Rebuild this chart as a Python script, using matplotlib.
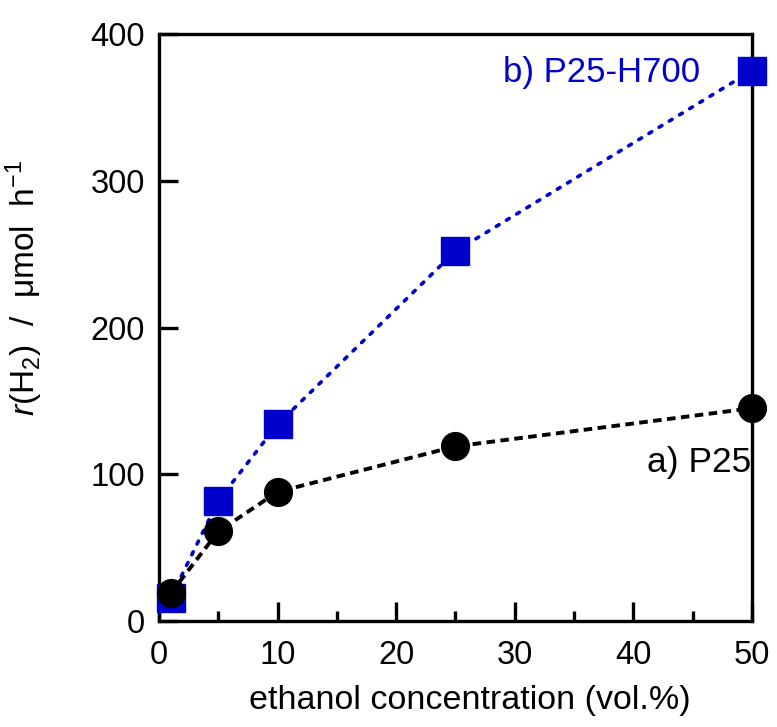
import matplotlib
matplotlib.use("Agg")
import matplotlib.pyplot as plt
from matplotlib.ticker import MultipleLocator

plt.rcParams['font.family'] = ['Liberation Sans', 'DejaVu Sans']
plt.rcParams['mathtext.fontset'] = 'custom'
plt.rcParams['mathtext.rm'] = 'Liberation Sans'
plt.rcParams['mathtext.it'] = 'Liberation Sans:italic'

ethanol = [1, 5, 10, 25, 50]
p25 = [19, 61, 88, 119, 145]
p25_h700 = [16, 82, 134, 252, 375]

fig = plt.figure(figsize=(7.77, 7.27), dpi=100)
ax = fig.add_axes([0.2046, 0.1458, 0.7632, 0.8074])

blue = '#0000CC'
ax.plot(ethanol, p25_h700, linestyle=(0, (0.9, 2.4)), color=blue, lw=2.6,
        marker='s', markersize=20.5, markerfacecolor=blue, markeredgecolor=blue,
        dash_capstyle='round', clip_on=False, zorder=3)
ax.plot(ethanol, p25, linestyle=(0, (2.2, 1.4)), color='black', lw=2.8,
        marker='o', markersize=20, markerfacecolor='black', markeredgecolor='black',
        dash_capstyle='butt', clip_on=False, zorder=4)

ax.text(45.6, 374, 'b) P25-H700', color=blue, fontsize=25, ha='right', va='center')
ax.text(49.9, 108, 'a) P25', color='black', fontsize=25.5, ha='right', va='center')

ax.set_xlim(0, 50)
ax.set_ylim(0, 400)
ax.xaxis.set_major_locator(MultipleLocator(10))
ax.xaxis.set_minor_locator(MultipleLocator(5))
ax.yaxis.set_major_locator(MultipleLocator(100))
ax.tick_params(axis='both', which='major', direction='in', length=14, width=2.4,
               labelsize=23.5, top=False, right=False)
ax.tick_params(axis='x', which='major', pad=14)
ax.tick_params(axis='y', which='major', pad=10)
ax.tick_params(axis='x', which='minor', direction='in', length=7, width=2.4, top=False)
for s in ax.spines.values():
    s.set_linewidth(2.4)

ax.set_xlabel('ethanol concentration (vol.%)', fontsize=24.5)
ax.xaxis.set_label_coords(0.524, -0.109)
ax.set_ylabel(r'$r$(H$_2$)  /  μmol  h$^{-1}$', fontsize=24)
ax.yaxis.set_label_coords(-0.193, 0.567)

fig.savefig('out.png', dpi=100)
